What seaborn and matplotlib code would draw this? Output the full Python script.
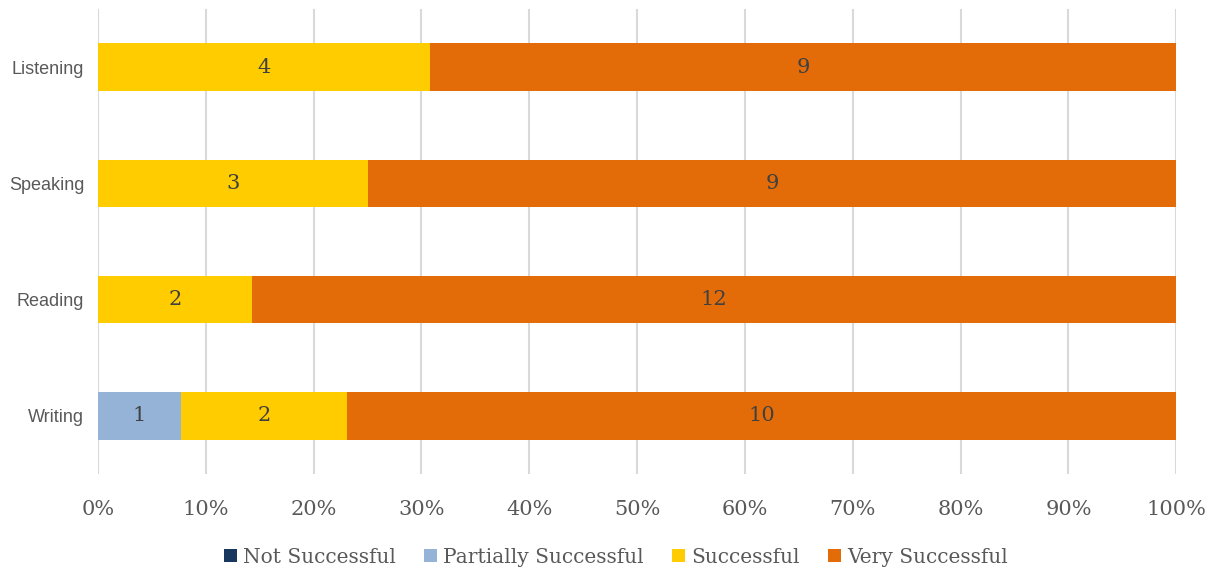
import numpy as np
import pandas as pd
import matplotlib
matplotlib.use("Agg")
import matplotlib.pyplot as plt
from matplotlib.patches import Patch
from matplotlib.ticker import PercentFormatter
import seaborn as sns

# data (counts per skill)
skills = ["Listening", "Speaking", "Reading", "Writing"]
series = ["Not Successful", "Partially Successful", "Successful", "Very Successful"]
not_successful = [0, 0, 0, 0]
partially_successful = [0, 0, 0, 1]
successful = [4, 3, 2, 2]
very_successful = [9, 9, 12, 10]
colors = ["#17375E", "#95B3D7", "#FFCC00", "#E36C09"]

counts = np.array([not_successful, partially_successful, successful, very_successful], dtype=float)
totals = counts.sum(axis=0)
shares = counts / totals
cum = shares.cumsum(axis=0)

sns.set_theme(style="white")
serif = ["DejaVu Serif"]

fig, ax = plt.subplots(figsize=(12.17, 5.75), dpi=100)
fig.subplots_adjust(left=0.0805, right=0.9665, top=0.984, bottom=0.176)

# stacked bars: draw cumulative totals from the last series back to the first
for i in range(len(series) - 1, -1, -1):
    df = pd.DataFrame({"skill": skills, "share": cum[i]})
    sns.barplot(data=df, x="share", y="skill", color=colors[i], width=0.41,
                saturation=1, linewidth=0, ax=ax, zorder=2)

# segment labels (skip zeros)
for i in range(len(series)):
    for j, sk in enumerate(skills):
        if counts[i, j] > 0:
            ax.text(cum[i, j] - shares[i, j] / 2, j, f"{int(counts[i, j])}",
                    ha="center", va="center", fontsize=15, color="#404040",
                    family=serif, zorder=3)

ax.set_xlim(0, 1)
ax.set_xticks(np.arange(0, 1.01, 0.1))
ax.xaxis.set_major_formatter(PercentFormatter(1.0, decimals=0))
ax.grid(axis="x", color="#D9D9D9", linewidth=1.5, zorder=0)
ax.set_axisbelow(True)
for s in ax.spines.values():
    s.set_visible(False)
ax.set_xlabel("")
ax.set_ylabel("")
ax.tick_params(axis="both", length=0)
ax.tick_params(axis="x", pad=19, labelcolor="#595959")
ax.tick_params(axis="y", pad=10, labelcolor="#595959")
for lab in ax.get_xticklabels():
    lab.set_family(serif)
    lab.set_fontsize(15)
for lab in ax.get_yticklabels():
    lab.set_family(["Liberation Sans", "DejaVu Sans"])
    lab.set_fontsize(13)

handles = [Patch(facecolor=c, edgecolor="none") for c in colors]
leg = fig.legend(handles, series, loc="center", bbox_to_anchor=(0.506, 0.031),
                 ncol=4, frameon=False, handlelength=0.65, handleheight=0.65,
                 handletextpad=0.3, columnspacing=1.4,
                 prop={"family": serif, "size": 14.5})
for t in leg.get_texts():
    t.set_color("#595959")

fig.savefig("out.png", dpi=100)
